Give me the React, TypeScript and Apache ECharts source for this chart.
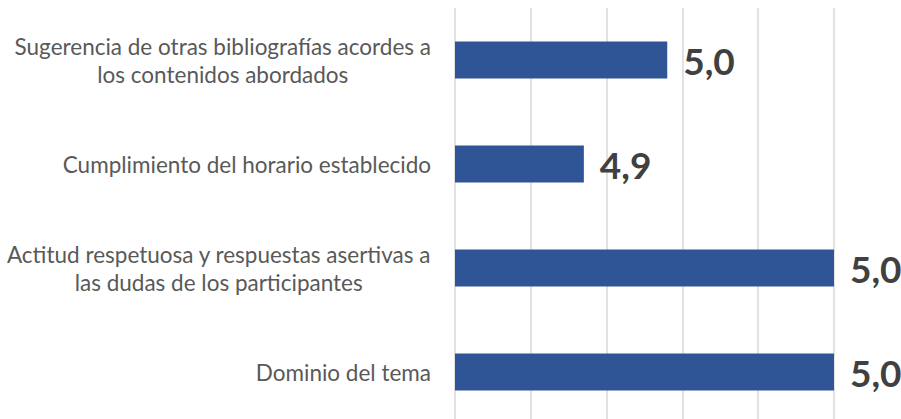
import React, { useEffect, useRef } from "react";
import * as echarts from "echarts";

const categories: string[] = [
  "Sugerencia de otras bibliografías acordes a los contenidos abordados",
  "Cumplimiento del horario establecido",
  "Actitud respetuosa y respuestas asertivas a las dudas de los participantes",
  "Dominio del tema",
];
const values: number[] = [4.956, 4.934, 5.0, 5.0];

const axisMin = 4.9;
const axisMax = 5.0;
const axisStep = 0.02;

const FONT = "Lato";

function wrapLabel(text: string, maxChars: number): string[] {
  if (text.length <= maxChars) return [text];
  const idx = text.lastIndexOf(" ", maxChars);
  return [text.slice(0, idx), text.slice(idx + 1)];
}

export default function App() {
  const ref = useRef<HTMLDivElement>(null);
  useEffect(() => {
    if (!ref.current) return;
    const chart = echarts.init(ref.current, null, { renderer: "svg" });
    chart.setOption({
      animation: false,
      backgroundColor: "#ffffff",
      grid: { left: 455, right: 67, top: 8, bottom: 0, containLabel: false },
      xAxis: {
        type: "value",
        min: axisMin,
        max: axisMax,
        interval: axisStep,
        axisLabel: { show: false },
        axisLine: { show: false },
        axisTick: { show: false },
        splitLine: { show: true, lineStyle: { color: "#d9d9d9", width: 1.5 } },
      },
      yAxis: {
        type: "category",
        inverse: true,
        data: categories,
        axisLine: { show: false },
        axisTick: { show: false },
        axisLabel: {
          margin: 24,
          align: "right",
          formatter: (v: string) =>
            wrapLabel(v, 43)
              .map((l) => "{c|" + l + "}")
              .join("\n"),
          rich: {
            c: {
              align: "center",
              fontFamily: FONT,
              fontSize: 22.5,
              lineHeight: 28,
              color: "#595959",
            },
          },
        },
      },
      series: [
        {
          type: "bar",
          data: values,
          barWidth: 37,
          itemStyle: { color: "#2f5597" },
          label: {
            show: true,
            position: "right",
            distance: 16,
            fontFamily: FONT,
            fontWeight: "bold",
            fontSize: 37,
            color: "#404040",
            formatter: (p: any) => Number(p.value).toFixed(1).replace(".", ","),
          },
        },
      ],
    });
    return () => chart.dispose();
  }, []);
  return (
    <div
      style={{
        position: "absolute",
        left: 0,
        top: 0,
        width: 901,
        height: 419,
        overflow: "hidden",
      }}
    >
      <div ref={ref} style={{ width: 901, height: 424 }} />
    </div>
  );
}
